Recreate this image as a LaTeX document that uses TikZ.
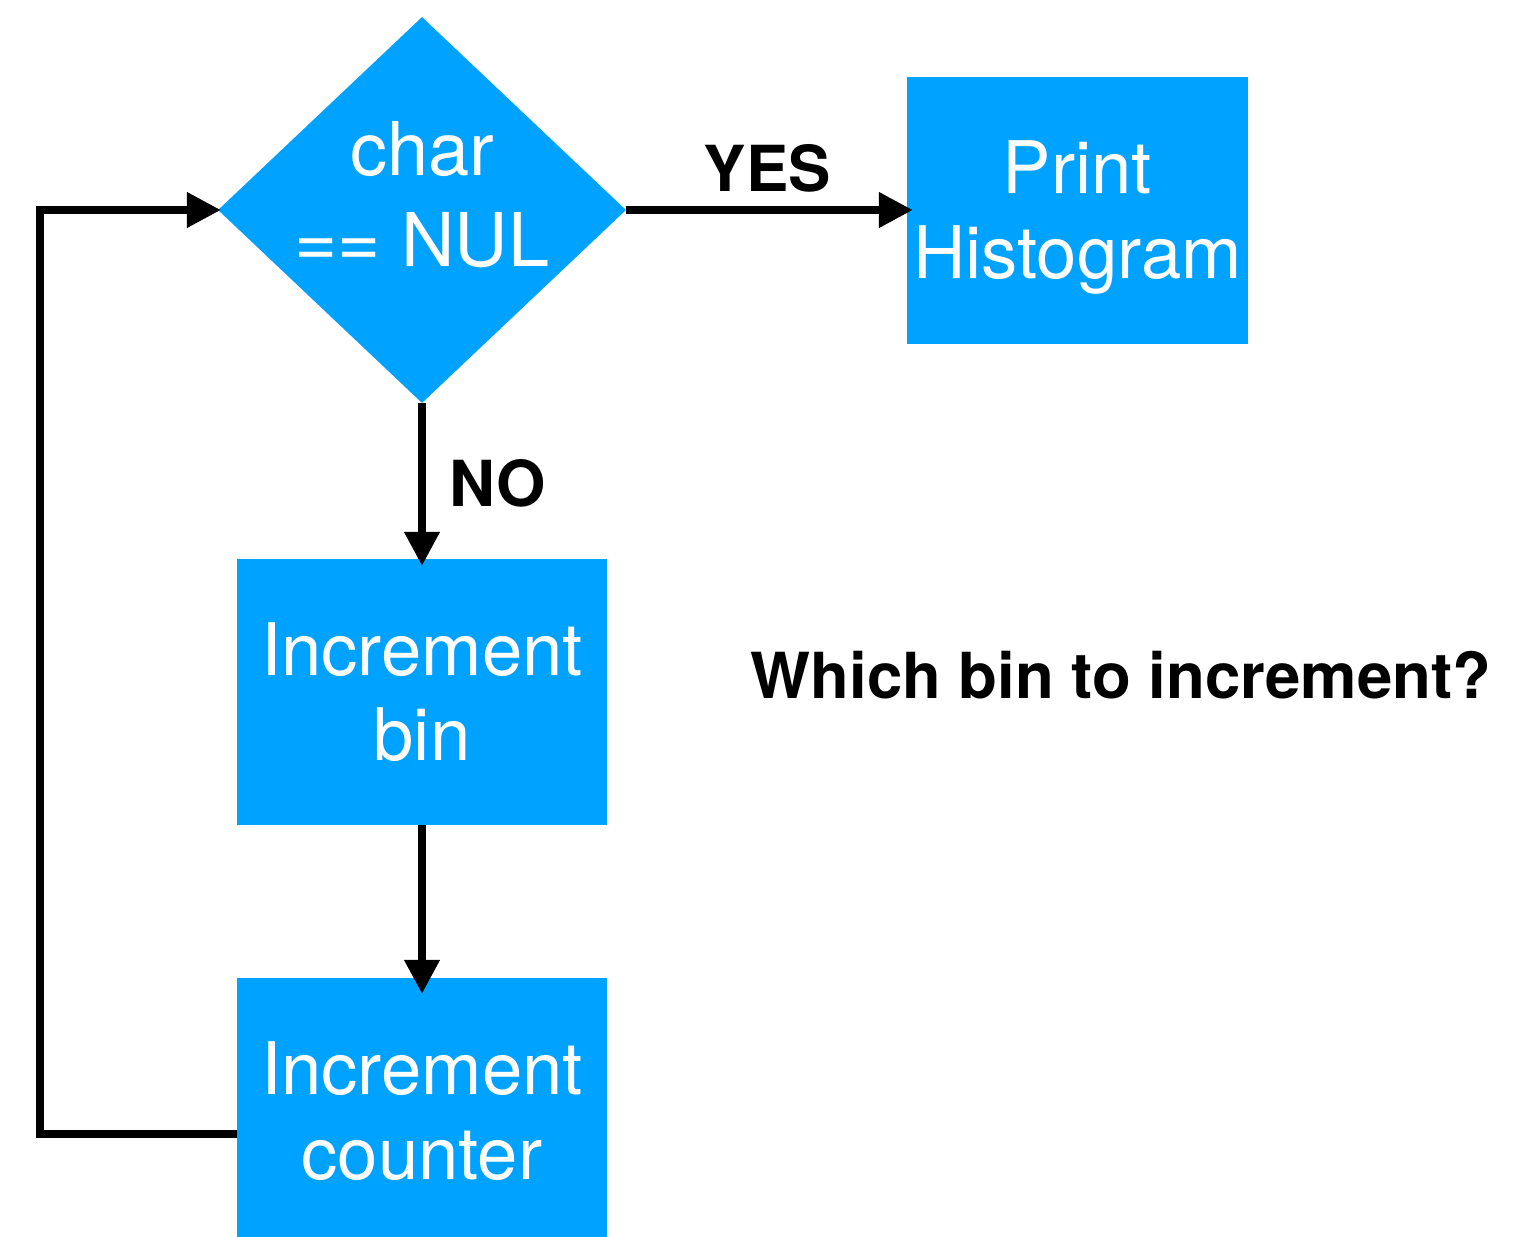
\documentclass[tikz,border=0pt]{standalone}
\usepackage{fontspec}
\setmainfont{TeX Gyre Heros}
\usetikzlibrary{shapes.geometric,arrows.meta}
\definecolor{flowblue}{RGB}{0,162,255}
% keep a descender from pushing a centred text block upwards
\newcommand\nodescender[1]{\raisebox{0pt}[\height][0pt]{#1}}

\begin{document}
\begin{tikzpicture}[x=1pt,y=-1pt,
  block/.style={rectangle, fill=flowblue, text=white, inner sep=0pt,
    minimum width=370pt, minimum height=266pt, align=center,
    font=\fontsize{72.5}{85}\selectfont},
  decision/.style={diamond, fill=flowblue, inner sep=0pt,
    minimum width=408pt, minimum height=386pt},
  decisiontext/.style={text=white, inner sep=0pt, align=center,
    font=\fontsize{74}{91}\selectfont},
  answer/.style={inner sep=0pt, font=\bfseries\fontsize{63.5}{75}\selectfont},
  flow/.style={line width=7.5pt, line join=miter,
    -{Triangle[length=34pt,width=34pt]}},
]
\useasboundingbox (0,0) rectangle (1529,1237);

% decision
\node[decision] (test) at (422,210) {};
\node[decisiontext] (testtext) at (422,194.5) {char\\== NUL};

% process boxes
\node[block, minimum width=341pt, minimum height=267pt] (print) at (1077.5,210)
  {Print\\\nodescender{Histogram}};
\node[block] (bin) at (422,692) {Increment\\bin};
\node[block] (counter) at (422,1111) {Increment\\counter};

% branch labels and note
\node[answer] (yes) at (767.5,168) {YES};
\node[answer] (no) at (497.5,483.5) {NO};
\node[answer] (question) at (1121,675) {Which bin to increment?};

% connectors
\draw[flow, shorten >=-6pt] (test.east) -- (print.west);
\draw[flow, shorten >=-7pt] (test.south) -- (bin.north);
\draw[flow, shorten >=-16pt] (bin.south) -- (counter.north);

% loop back to the decision
\coordinate (loopstart) at ([yshift=-23pt]counter.west);
\coordinate (looprail) at (40,0);
\draw[flow, shorten >=-3pt] (loopstart) -- (loopstart -| looprail) |- (test.west);
\end{tikzpicture}
\end{document}
